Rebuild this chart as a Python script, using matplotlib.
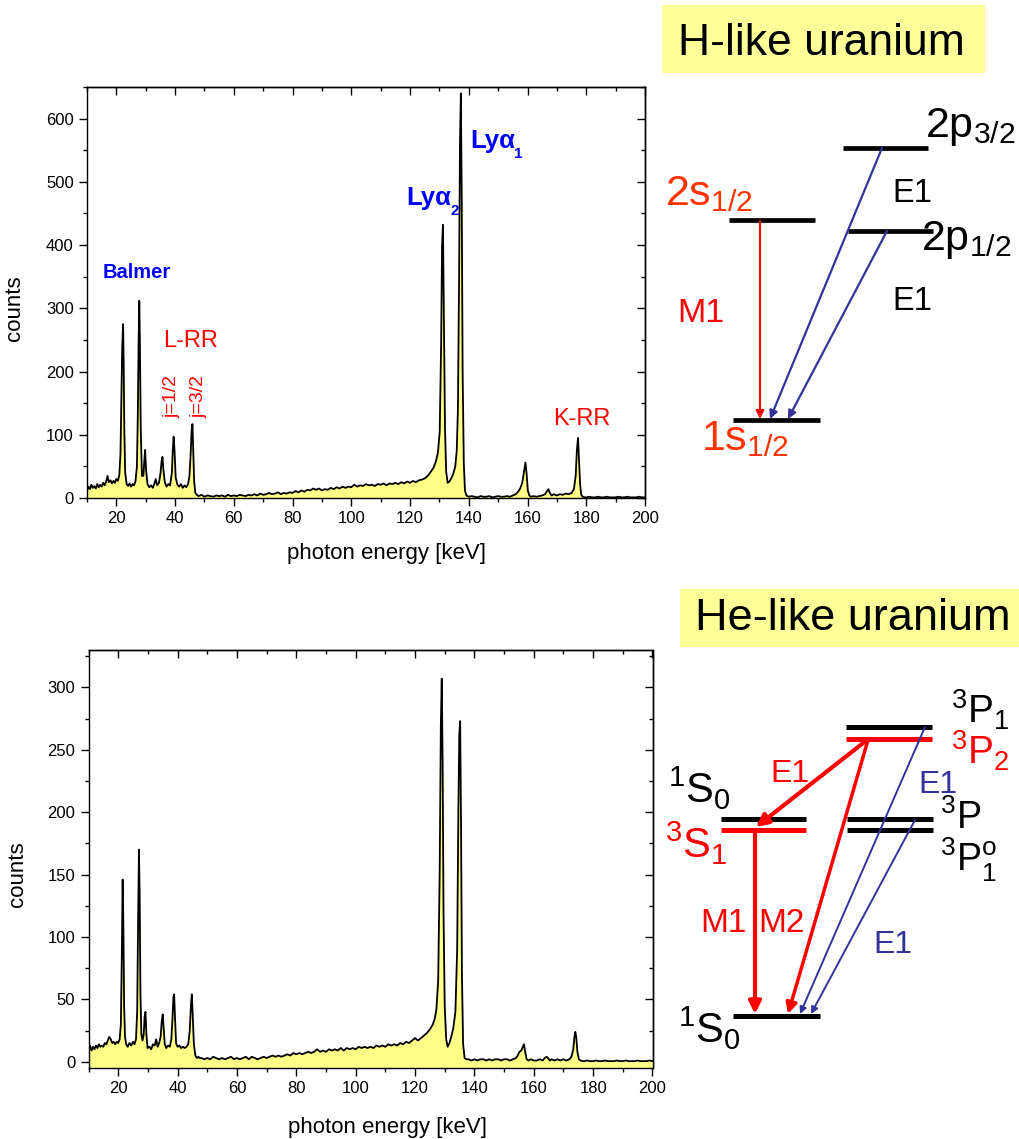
import matplotlib
matplotlib.use("Agg")
import matplotlib.pyplot as plt
from matplotlib.ticker import MultipleLocator, NullFormatter
from matplotlib.patches import Rectangle

plt.rcParams.update({
    "font.family": ["Liberation Sans", "DejaVu Sans"],
    "mathtext.fontset": "custom",
    "mathtext.rm": "Liberation Sans",
    "mathtext.it": "Liberation Sans:italic",
    "mathtext.bf": "Liberation Sans:bold",
    "axes.linewidth": 1.0,
})

# ---- H-like uranium spectrum (photon energy keV, counts) ----
E_H = [10, 10.5, 11, 11.5, 12, 12.5, 13, 13.5, 14, 14.5,
       15, 15.5, 16, 16.5, 17.0, 17.4, 18, 18.5, 19, 19.5,
       20, 20.5, 21.0, 21.4, 21.7, 22.0, 22.3, 22.5, 22.7, 23.0,
       23.5, 24, 24.5, 25, 25.5, 26, 26.5, 27.0, 27.3, 27.55,
       27.8, 28.0, 28.3, 28.7, 29.2, 29.5, 29.8, 30.1, 30.6, 31.2,
       31.8, 32.4, 32.9, 33.4, 33.9, 34.5, 35.0, 35.4, 35.7, 36.0,
       36.5, 37.1, 37.7, 38.3, 38.9, 39.2, 39.5, 39.8, 40.2, 40.8,
       41.4, 42, 42.6, 43.2, 43.8, 44.4, 44.9, 45.3, 45.6, 45.9,
       46.2, 46.5, 46.9, 47.4,
       48, 49, 50, 51, 52, 53, 54, 55, 56, 57,
       58, 59, 60, 61, 62, 63, 64, 65, 66, 67,
       68, 69, 70, 71, 72, 73, 74, 75, 76, 77,
       78, 79, 80, 81, 82, 83, 84, 85, 86, 87,
       88, 89, 90, 91, 92, 93, 94, 95, 96, 97,
       98, 99, 100, 101, 102, 103, 104, 105, 106, 107,
       108, 109, 110, 111, 112, 113, 114, 115, 116, 117,
       118, 119, 120, 121, 122, 123, 124, 125, 126, 127,
       128, 128.8, 129.5, 130.1, 130.6, 130.9, 131.2, 131.5, 131.9, 132.3,
       132.8, 133.4, 134.0, 134.7, 135.4, 135.9, 136.3, 136.7, 137.0, 137.3,
       137.6, 137.9, 138.3, 138.7, 139.2,
       140, 141, 142, 143, 144, 145, 146, 147, 148, 149,
       150, 151, 152, 153, 154, 155,
       156, 156.8, 157.5, 158.2, 158.8, 159.3, 159.7, 160.1, 160.6, 161.2,
       162, 163, 164, 165, 166, 166.6, 167.1, 167.6, 168.2, 169,
       170, 171, 172, 173, 174, 175, 175.8, 176.4, 176.8, 177.2,
       177.5, 177.9, 178.3, 178.8, 179.5,
       180, 181, 182, 183, 184, 185, 186, 187, 188, 189,
       190, 191, 192, 193, 194, 195, 196, 197, 198, 199, 200]
C_H = [12, 18, 14, 21, 16, 19, 15, 22, 17, 21,
       18, 24, 20, 26, 35, 25, 28, 23, 27, 24,
       30, 27, 36, 70, 150, 240, 275, 210, 110, 40,
       22, 19, 23, 18, 22, 20, 26, 50, 130, 240,
       312, 250, 110, 35, 35, 58, 76, 45, 22, 17,
       20, 16, 22, 30, 20, 24, 38, 58, 65, 45,
       25, 18, 22, 20, 40, 75, 97, 75, 32, 21,
       18, 22, 16, 20, 17, 22, 35, 70, 105, 117,
       70, 25, 8, 5,
       3, 5, 2, 4, 3, 2, 4, 3, 4, 2,
       5, 3, 4, 3, 5, 4, 3, 5, 4, 6,
       4, 7, 5, 6, 8, 6, 7, 9, 6, 8,
       7, 9, 8, 11, 9, 12, 10, 13, 12, 15,
       13, 15, 12, 14, 13, 16, 14, 17, 15, 18,
       16, 18, 17, 21, 18, 20, 19, 22, 20, 21,
       19, 22, 21, 23, 20, 23, 22, 24, 22, 25,
       23, 26, 24, 27, 25, 28, 29, 31, 35, 41,
       48, 58, 72, 105, 250, 400, 432, 300, 110, 42,
       24, 26, 31, 38, 50, 75, 140, 350, 560, 640,
       470, 200, 55, 12, 4,
       2, 3, 2, 1, 3, 2, 2, 3, 1, 2,
       3, 2, 2, 3, 2, 4,
       6, 10, 15, 24, 42, 56, 38, 12, 4, 2,
       3, 2, 3, 4, 6, 11, 14, 8, 4, 6,
       4, 6, 5, 7, 6, 8, 14, 35, 75, 95,
       65, 22, 5, 2, 1,
       1, 2, 1, 1, 2, 1, 1, 2, 1, 1,
       1, 2, 1, 1, 2, 1, 1, 1, 2, 1, 1]

# ---- He-like uranium spectrum ----
E_HE = [10, 10.5, 11, 11.5, 12, 12.5, 13, 13.5, 14, 14.5,
        15, 15.5, 16, 16.5, 17.0, 17.5, 18.0, 18.5, 19, 19.5,
        20, 20.5, 20.9, 21.2, 21.5, 21.75, 22.0, 22.3, 22.7, 23.2,
        23.8, 24.4, 25, 25.5, 26.0, 26.4, 26.7, 27.0, 27.25, 27.5,
        27.8, 28.2, 28.6, 28.9, 29.2, 29.5, 29.9, 30.5, 31.1, 31.7,
        32.3, 32.8, 33.3, 33.8, 34.3, 34.7, 35.0, 35.3, 35.7, 36.2,
        36.8, 37.4, 37.9, 38.3, 38.6, 38.85, 39.1, 39.5, 40.0, 40.6,
        41.2, 41.8, 42.4, 43.0, 43.6, 44.1, 44.5, 44.8, 45.1, 45.5,
        46.0, 46.5, 47, 47.5,
        48, 49, 50, 51, 52, 53, 54, 55, 56, 57,
        58, 59, 60, 61, 62, 63, 64, 65, 66, 67,
        68, 69, 70, 71, 72, 73, 74, 75, 76, 77,
        78, 79, 80, 81, 82, 83, 84, 85, 86, 87,
        88, 89, 90, 91, 92, 93, 94, 95, 96, 97,
        98, 99, 100, 101, 102, 103, 104, 105, 106, 107,
        108, 109, 110, 111, 112, 113, 114, 115, 116, 117,
        118, 119, 120, 121, 122, 123, 124, 125, 126,
        126.6, 127.2, 127.8, 128.3, 128.7, 129.0, 129.3, 129.6, 130.0, 130.5,
        131.0, 131.6, 132.2, 132.9, 133.6, 134.2, 134.6, 134.9, 135.2, 135.5,
        135.8, 136.2, 136.7, 137.3,
        138, 139, 140, 141, 142, 143, 144, 145, 146, 147,
        148, 149, 150, 151, 152, 153, 154,
        154.6, 155.2, 155.8, 156.3, 156.7, 157.1, 157.6, 158.2, 159, 160,
        161, 162, 163, 163.7, 164.3, 164.8, 165.4, 166, 167, 168,
        169, 170, 171, 172, 172.7, 173.3, 173.7, 174.0, 174.3, 174.7,
        175.2, 175.8, 176.5,
        177, 178, 179, 180, 181, 182, 183, 184, 185, 186,
        187, 188, 189, 190, 191, 192, 193, 194, 195, 196,
        197, 198, 199, 200]
C_HE = [10, 13, 9, 12, 10, 13, 11, 14, 12, 13,
        12, 15, 14, 17, 20, 18, 15, 16, 14, 16,
        15, 18, 30, 80, 146, 110, 45, 20, 14, 12,
        15, 13, 16, 14, 18, 40, 110, 170, 130, 55,
        22, 17, 22, 36, 40, 22, 11, 12, 10, 14,
        13, 18, 12, 15, 20, 33, 38, 28, 14, 11,
        13, 12, 18, 35, 52, 54, 38, 15, 12, 13,
        11, 12, 11, 12, 14, 25, 45, 54, 38, 14,
        5, 3, 4, 3,
        3, 2, 3, 2, 4, 3, 2, 3, 2, 3,
        4, 2, 3, 2, 3, 4, 2, 4, 3, 2,
        3, 4, 3, 4, 5, 4, 5, 4, 5, 6,
        5, 7, 6, 7, 6, 7, 8, 7, 8, 10,
        8, 9, 8, 10, 9, 10, 9, 11, 9, 11,
        10, 11, 10, 12, 11, 12, 11, 12, 11, 13,
        12, 13, 12, 14, 13, 14, 13, 15, 14, 16,
        15, 17, 19, 17, 19, 21, 23, 26, 30,
        34, 42, 65, 150, 270, 307, 240, 120, 45, 18,
        12, 15, 20, 27, 40, 90, 200, 262, 273, 190,
        70, 14, 3, 2,
        2, 1, 2, 1, 2, 2, 1, 2, 1, 2,
        2, 1, 2, 2, 1, 2, 3,
        5, 8, 9, 12, 14, 8, 2, 1, 2, 1,
        1, 2, 1, 3, 4, 3, 1, 2, 1, 2,
        1, 2, 1, 2, 4, 10, 20, 24, 20, 8,
        2, 1, 0.5,
        0.5, 1, 0.5, 0.5, 1, 0.5, 0.5, 1, 0.5, 0.5,
        0.5, 1, 0.5, 0.5, 1, 0.5, 0.5, 0.5, 1, 0.5,
        0.5, 0.5, 1, 0.5]

FILL = "#ffff88"
BLUE = "#0000ff"
RED = "#ff0000"
ORANGE = "#ff3300"
NAVY = "#333399"

W, H = 1019, 1139
fig = plt.figure(figsize=(W / 100, H / 100), dpi=100)


def spectrum_axes(box, e, c, ylim, ymaj, ymin, ylab_xy, xlab_xy):
    left, top, right, bottom = box
    ax = fig.add_axes([left / W, 1 - bottom / H, (right - left) / W, (bottom - top) / H])
    ax.fill_between(e, c, ylim[0], color=FILL, lw=0)
    ax.plot(e, c, color="k", lw=1.3)
    ax.set_xlim(10, 200)
    ax.set_ylim(*ylim)
    ax.xaxis.set_major_locator(MultipleLocator(20))
    ax.xaxis.set_minor_locator(MultipleLocator(10))
    ax.yaxis.set_major_locator(MultipleLocator(ymaj))
    ax.yaxis.set_minor_locator(MultipleLocator(ymin))
    ax.tick_params(which="major", direction="out", length=6, width=1, labelsize=12)
    ax.tick_params(which="minor", direction="out", length=3, width=1)
    # inward ticks on top and right, Origin style
    sx = ax.secondary_xaxis("top")
    sx.xaxis.set_major_locator(MultipleLocator(20))
    sx.xaxis.set_minor_locator(MultipleLocator(10))
    sx.xaxis.set_major_formatter(NullFormatter())
    sx.tick_params(which="major", direction="in", length=6, width=1)
    sx.tick_params(which="minor", direction="in", length=3, width=1)
    sy = ax.secondary_yaxis("right")
    sy.yaxis.set_major_locator(MultipleLocator(ymaj))
    sy.yaxis.set_minor_locator(MultipleLocator(ymin))
    sy.yaxis.set_major_formatter(NullFormatter())
    sy.tick_params(which="major", direction="in", length=6, width=1)
    sy.tick_params(which="minor", direction="in", length=3, width=1)
    ax.set_ylabel("counts", fontsize=16)
    ax.set_xlabel("photon energy [keV]", fontsize=16)
    ax.yaxis.set_label_coords(*ylab_xy)
    ax.xaxis.set_label_coords(*xlab_xy)
    return ax


ax1 = spectrum_axes((87, 87, 645, 498), E_H, C_H, (0, 650), 100, 50,
                    (-0.111, 0.462), (0.536, -0.109))
ax2 = spectrum_axes((88.5, 650, 652.5, 1068), E_HE, C_HE, (-5, 330), 50, 25,
                    (-0.108, 0.464), (0.531, -0.117))

# overlay in pixel coordinates for annotations and level diagrams
ov = fig.add_axes([0, 0, 1, 1])
ov.set_xlim(0, W)
ov.set_ylim(H, 0)
ov.axis("off")
ov.patch.set_alpha(0)


def txt(x, y, s, size, color="black", **kw):
    ov.text(x, y, s, fontsize=size, color=color, va="baseline", **kw)


def arrow(x0, y0, x1, y1, color, lw, ms):
    ov.annotate("", xy=(x1, y1), xytext=(x0, y0),
                arrowprops=dict(arrowstyle="-|>", color=color, lw=lw,
                                mutation_scale=ms, shrinkA=0, shrinkB=0))


# spectrum annotations
txt(103, 278, "Balmer", 14.5, BLUE, fontweight="bold")
txt(163, 347, "L-RR", 17, RED)
ov.text(172.5, 418, "j=1/2", fontsize=14, color=RED, rotation=90, ha="center", va="bottom")
ov.text(199, 418, "j=3/2", fontsize=14, color=RED, rotation=90, ha="center", va="bottom")
txt(553, 425, "K-RR", 17, RED)
txt(406, 205, "Ly\u03b1", 18.5, BLUE, fontweight="bold")
txt(451, 215, "2", 11, BLUE, fontweight="bold")
txt(470, 148, "Ly\u03b1", 18.5, BLUE, fontweight="bold")
txt(514, 158, "1", 11, BLUE, fontweight="bold")

# H-like level scheme
ov.add_patch(Rectangle((662, 5), 323, 68, color="#ffff99", lw=0))
txt(678, 55, "H-like uranium", 32)
ov.hlines([148, 220, 231, 420], [843, 729, 848, 733], [928, 815, 933, 820],
          color="k", lw=3.4)
txt(925, 137, r"2p$_{3/2}$", 31)
txt(921, 250, r"2p$_{1/2}$", 31)
txt(665, 205, r"2s$_{1/2}$", 31, ORANGE)
txt(701, 450, r"1s$_{1/2}$", 31, ORANGE)
txt(892, 202, "E1", 23.5)
txt(892, 310, "E1", 23.5)
txt(677, 322, "M1", 24.5, RED)
arrow(760, 221, 760, 419, RED, 1.5, 12)
arrow(882, 148, 770, 419, NAVY, 1.6, 12)
arrow(887, 231, 788, 419, NAVY, 1.6, 12)

# He-like level scheme
ov.add_patch(Rectangle((680, 589), 339, 58, color="#ffff99", lw=0))
txt(695, 630, "He-like uranium", 32.5)
ov.hlines([727, 819, 819, 829.5, 1016], [846, 721, 847, 847, 733],
          [932, 806, 933, 933, 820], color="k", lw=3.6)
ov.hlines([739, 829.5], [846, 721], [932, 806], color=RED, lw=3.6)
txt(951, 724, r"$^{3}$P$_{1}$", 28)
txt(951, 765, r"$^{3}$P$_{2}$", 28, RED)
txt(668, 803, r"$^{1}$S$_{0}$", 30)
txt(665, 858, r"$^{3}$S$_{1}$", 30, RED)
txt(940, 829, r"$^{3}$P", 27)
txt(940, 871, r"$^{3}$P$^{\mathrm{o}}_{1}$", 27)
txt(678, 1043, r"$^{1}$S$_{0}$", 30)
txt(770, 782, "E1", 23, RED)
txt(918, 793, "E1", 23, NAVY)
txt(700, 932, "M1", 24, RED)
txt(758, 932, "M2", 24, RED)
txt(873, 953, "E1", 23, NAVY)
arrow(867, 740, 756, 827, RED, 3, 18)
arrow(755, 830, 755, 1014, RED, 3, 18)
arrow(868, 740, 788, 1014, RED, 2.5, 16)
arrow(925, 727, 800, 1014, NAVY, 1.4, 10)
arrow(915, 820, 811, 1014, NAVY, 1.4, 10)

fig.savefig("out.png", dpi=100)
